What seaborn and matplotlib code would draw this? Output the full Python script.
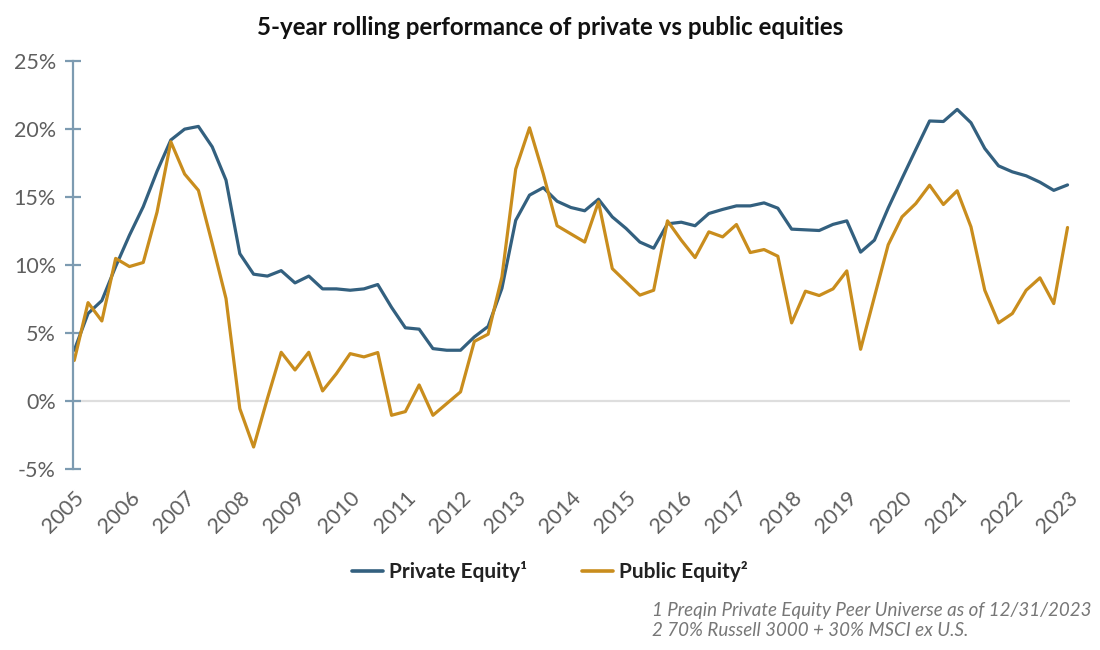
import numpy as np
import pandas as pd
import matplotlib
matplotlib.use("Agg")
import matplotlib.pyplot as plt
import seaborn as sns

# quarterly 5-year rolling returns (%), Q4 2005 .. Q4 2023
private_equity = [
    3.75, 6.45, 7.4, 9.9, 12.2, 14.3, 16.9, 19.2, 20.0, 20.2,
    18.7, 16.25, 10.85, 9.34, 9.2, 9.6, 8.7, 9.2, 8.26, 8.26,
    8.16, 8.26, 8.58, 6.9, 5.4, 5.3, 3.87, 3.75, 3.75, 4.73,
    5.5, 8.3, 13.3, 15.15, 15.7, 14.7, 14.24, 14.0, 14.85, 13.55,
    12.7, 11.7, 11.25, 13.04, 13.16, 12.9, 13.8, 14.1, 14.36, 14.36,
    14.58, 14.19, 12.65, 12.6, 12.55, 13.0, 13.26, 10.96, 11.84, 14.2,
    16.37, 18.5, 20.6, 20.56, 21.45, 20.47, 18.58, 17.3, 16.86, 16.57,
    16.1, 15.5, 15.9,
]
public_equity = [
    3.0, 7.25, 5.9, 10.5, 9.9, 10.2, 13.9, 19.07, 16.7, 15.5,
    11.6, 7.55, -0.54, -3.36, 0.2, 3.6, 2.3, 3.6, 0.76, 2.03,
    3.5, 3.26, 3.58, -1.03, -0.76, 1.2, -1.03, -0.17, 0.69, 4.4,
    4.93, 9.14, 17.06, 20.1, 16.7, 12.9, 12.3, 11.7, 14.66, 9.75,
    8.77, 7.8, 8.16, 13.26, 11.84, 10.56, 12.45, 12.08, 12.99, 10.93,
    11.15, 10.66, 5.76, 8.09, 7.77, 8.26, 9.58, 3.82, 7.67, 11.5,
    13.55, 14.53, 15.88, 14.46, 15.47, 12.82, 8.16, 5.76, 6.45, 8.16,
    9.07, 7.18, 12.77,
]
years = list(range(2005, 2024))
y_ticks = [-5, 0, 5, 10, 15, 20, 25]
series_names = ["Private Equity\u00b9", "Public Equity\u00b2"]
footnotes = ["1 Preqin Private Equity Peer Universe as of 12/31/2023",
             "2 70% Russell 3000 + 30% MSCI ex U.S."]

dates = 2005 + np.arange(len(private_equity)) / 4
df = pd.DataFrame({"date": dates,
                   series_names[0]: private_equity,
                   series_names[1]: public_equity})
long_df = df.melt(id_vars="date", var_name="series", value_name="ret")

sns.set_theme(style="white")
plt.rcParams["font.family"] = ["Lato", "DejaVu Sans"]

fig = plt.figure(figsize=(11, 6.5), dpi=100)
ax = fig.add_axes([0.066, 0.278, 0.907, 0.628])

palette = {series_names[0]: "#33607F", series_names[1]: "#C98D1D"}
ax.axhline(0, color="#dedede", lw=1.6, zorder=0)
sns.lineplot(data=long_df, x="date", y="ret", hue="series", palette=palette,
             linewidth=2.3, ax=ax, legend=False)

ax.set_xlim(2004.97, 2023.05)
ax.set_ylim(-5, 25)
ax.set_yticks(y_ticks)
ax.set_yticklabels([f"{t}%" for t in y_ticks], fontsize=15.5, color="#5f5f5f")
ax.set_xticks(years)
ax.set_xticklabels([str(y) for y in years], rotation=45, ha="right",
                   rotation_mode="anchor", fontsize=15.5, color="#5f5f5f")
ax.set_xlabel("")
ax.set_ylabel("")

for s in ["top", "right", "bottom"]:
    ax.spines[s].set_visible(False)
ax.spines["left"].set_color("#7D9BB1")
ax.spines["left"].set_linewidth(1.6)
ax.tick_params(axis="y", which="major", direction="inout", length=12,
               width=1.6, color="#7D9BB1", left=True, pad=6)
ax.tick_params(axis="x", length=0, pad=13)

fig.text(0.5, 0.957, "5-year rolling performance of private vs public equities",
         ha="center", va="center", fontsize=17.4, fontweight="bold", color="#111111")

handles = [plt.Line2D([], [], color=palette[n], lw=2.6) for n in series_names]
leg = fig.legend(handles, series_names, loc="center", bbox_to_anchor=(0.5, 0.121),
                 ncol=2, frameon=False, handlelength=1.5, handletextpad=0.3,
                 columnspacing=2.6, prop={"weight": "bold", "size": 15})
for t in leg.get_texts():
    t.set_color("#222222")

fig.text(0.593, 0.046, footnotes[0] + "\n" + footnotes[1], ha="left", va="center",
         fontsize=13.5, style="italic", color="#777777", linespacing=1.2)

fig.savefig("out.png", dpi=100)
